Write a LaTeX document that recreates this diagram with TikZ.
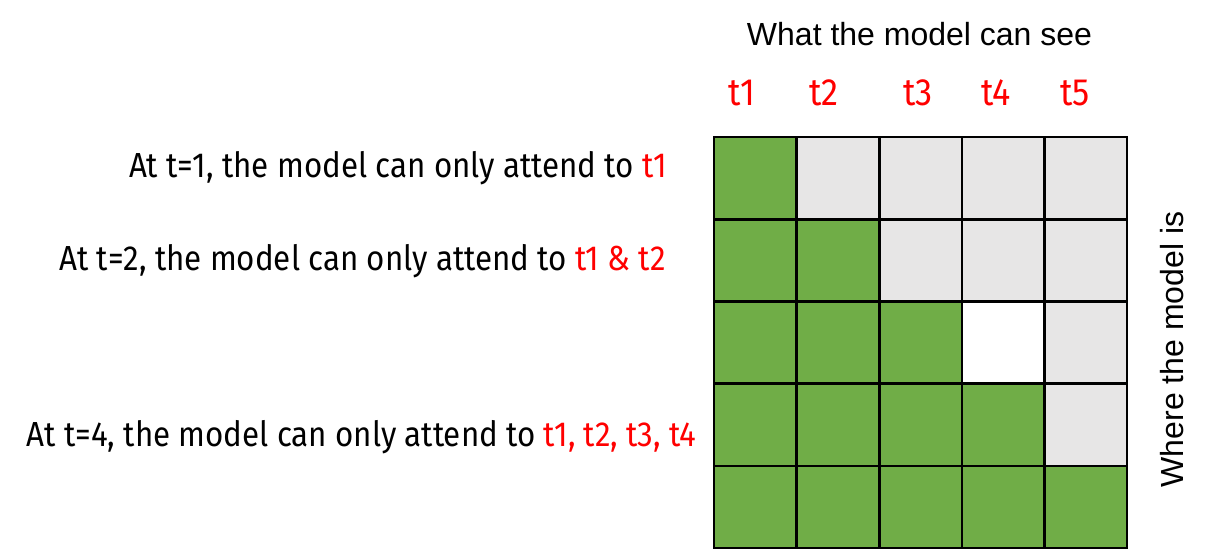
\documentclass[tikz,border=0pt]{standalone}
\usepackage{fontspec}
\setmainfont{Liberation Sans}
\newfontfamily\narrowfont[FakeStretch=0.9]{Fira Sans}
\usepackage{xcolor}
\usetikzlibrary{positioning}
\definecolor{on}{HTML}{70AD47}
\definecolor{off}{HTML}{E7E6E6}
\definecolor{blank}{HTML}{FFFFFF}
\begin{document}
\begin{tikzpicture}[x=0.5pt,y=0.5pt,
		cell/.style={
			draw=black,
			line width=1.3pt,
			fill=#1,
			minimum width=41.3pt,
			minimum height=41.1pt,
			inner sep=0pt,
			outer sep=0pt},
		tok/.style={text=red, font=\narrowfont\fontsize{19}{22}\selectfont, inner sep=0pt, anchor=base},
		note/.style={font=\narrowfont\fontsize{17.4}{20}\selectfont, inner sep=0pt, anchor=base east},
		axis/.style={font=\fontsize{16}{19}\selectfont, inner sep=0pt, anchor=base}
		]
		\useasboundingbox (0,0) rectangle (1208,-552);
		
		% draw the mask, one row per position
		\foreach \row [count=\r from 1] in {
			{on,off,off,off,off},
			{on,on,off,off,off},
			{on,on,on,blank,off},
			{on,on,on,on,off},
			{on,on,on,on,on}} {
			\foreach \col [count=\c from 1] in \row
			\node[cell=\col] (m\r\c) at (714+82.6*\c-41.3, -137-82.2*\r+41.1) {};
		}
		
		% token labels above the columns
		\foreach \x [count=\step from 1] in {742,824,918,996,1075}
		\node[tok] (t\step) at (\x, -105) {t\step};
		
		\node[axis] (see) at (919.5, -45) {What the model can see};
		\node[axis, rotate=90] (where) at (1183, -349.5) {Where the model is};
		
		% what each position may attend to
		\node[note] (n1) at (667, -177.3) {At t=1, the model can only attend to \textcolor{red}{t1}};
		\node[note] (n2) at (666, -270.7) {At t=2, the model can only attend to \textcolor{red}{t1 \& t2}};
		\node[note] (n4) at (697, -446.7) {At t=4, the model can only attend to \textcolor{red}{t1, t2, t3, t4}};
\end{tikzpicture}
\end{document}
